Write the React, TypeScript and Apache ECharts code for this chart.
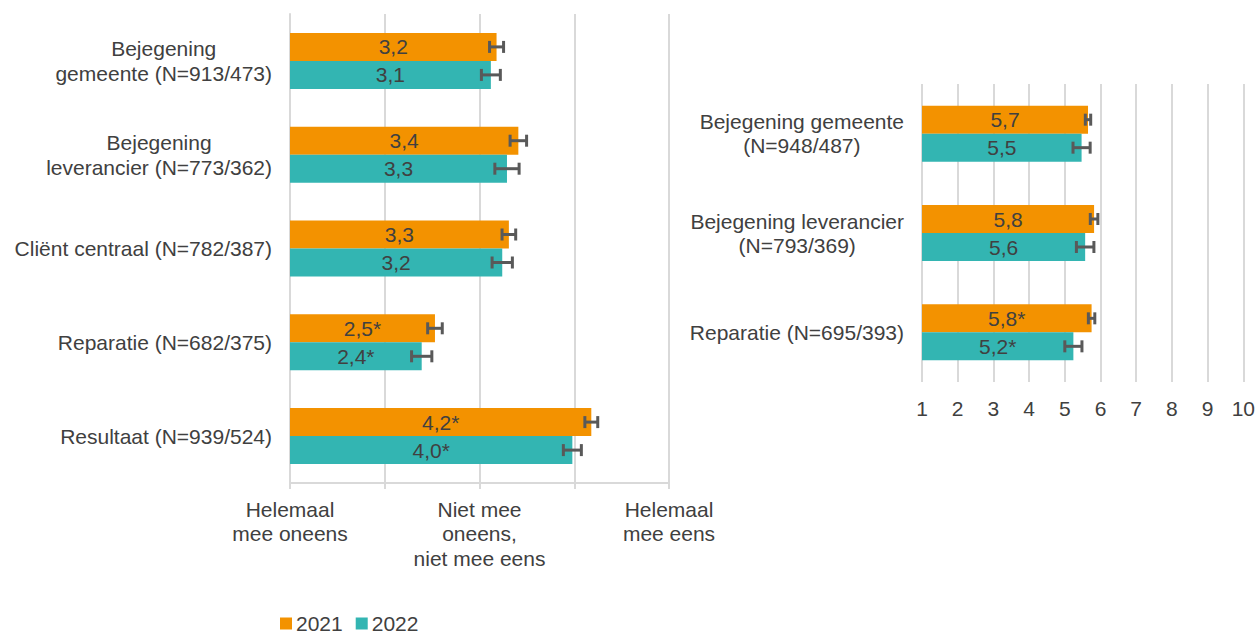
import React, { useEffect, useRef } from "react";
import * as echarts from "echarts";

// ---- Data ----
const leftCategories = [
  "Bejegening\ngemeente (N=913/473)",
  "Bejegening\nleverancier (N=773/362)",
  "Cliënt centraal (N=782/387)",
  "Reparatie (N=682/375)",
  "Resultaat (N=939/524)",
];
const left2021 = [3.18, 3.41, 3.31, 2.53, 4.18];
const left2022 = [3.12, 3.29, 3.24, 2.39, 3.98];
const leftErr2021 = [0.074, 0.087, 0.072, 0.077, 0.068];
const leftErr2022 = [0.1, 0.128, 0.107, 0.107, 0.095];
const leftSig2021 = [false, false, false, true, true];
const leftSig2022 = [false, false, false, true, true];
const leftTickLabels: Record<number, string> = {
  1: "Helemaal\nmee oneens",
  3: "Niet mee\noneens,\nniet mee eens",
  5: "Helemaal\nmee eens",
};

const rightCategories = [
  "Bejegening gemeente\n(N=948/487)",
  "Bejegening leverancier\n(N=793/369)",
  "Reparatie (N=695/393)",
];
const right2021 = [5.65, 5.82, 5.75];
const right2022 = [5.47, 5.57, 5.24];
const rightErr2021 = [0.075, 0.106, 0.09];
const rightErr2022 = [0.24, 0.245, 0.24];
const rightSig2021 = [false, false, true];
const rightSig2022 = [false, false, true];

const years = ["2021", "2022"];
const colors = ["#F39200", "#33B5B2"];

const FONT = "'Liberation Sans', Arial, sans-serif";
const TEXT = "#404040";
const GRID = "#D9D9D9";
const ERR = "#595959";

function fmt(v: number, sig: boolean) {
  return v.toFixed(1).replace(".", ",") + (sig ? "*" : "");
}

function catLabel(s: string) {
  return s
    .split("\n")
    .map((l) => "{c|" + l + "}")
    .join("\n");
}

function barSeries(
  name: string,
  color: string,
  values: number[],
  sig: boolean[],
  axisIdx: number
) {
  return {
    name,
    type: "bar",
    xAxisIndex: axisIdx,
    yAxisIndex: axisIdx,
    data: values,
    barWidth: 28,
    barGap: "0%",
    itemStyle: { color },
    label: {
      show: true,
      position: "inside",
      color: TEXT,
      fontSize: 21,
      fontFamily: FONT,
      formatter: (p: any) => fmt(values[p.dataIndex], sig[p.dataIndex]),
    },
    z: 2,
  };
}

function errSeries(
  values: number[],
  errs: number[],
  axisIdx: number,
  offset: number
) {
  return {
    type: "custom",
    xAxisIndex: axisIdx,
    yAxisIndex: axisIdx,
    data: values.map((v, i) => [v, i, errs[i]]),
    encode: { x: 0, y: 1 },
    z: 5,
    silent: true,
    renderItem: (params: any, api: any) => {
      const v = api.value(0);
      const idx = api.value(1);
      const e = api.value(2);
      const c = api.coord([v, idx]);
      const lo = api.coord([v - e, idx])[0];
      const hi = api.coord([v + e, idx])[0];
      const y = c[1] + offset;
      const st = { stroke: ERR, lineWidth: 3 };
      return {
        type: "group",
        children: [
          { type: "line", shape: { x1: lo, y1: y, x2: hi, y2: y }, style: st },
          { type: "line", shape: { x1: lo, y1: y - 6, x2: lo, y2: y + 6 }, style: st },
          { type: "line", shape: { x1: hi, y1: y - 6, x2: hi, y2: y + 6 }, style: st },
        ],
      };
    },
  };
}

export default function App() {
  const ref = useRef<HTMLDivElement>(null);

  useEffect(() => {
    if (!ref.current) return;
    const chart = echarts.init(ref.current, undefined, { renderer: "svg" });
    const option: any = {
      animation: false,
      backgroundColor: "#ffffff",
      textStyle: { fontFamily: FONT },
      legend: {
        data: years,
        left: 277,
        top: 610,
        padding: 3,
        itemWidth: 12,
        itemHeight: 12,
        itemGap: 13,
        icon: "rect",
        textStyle: {
          color: TEXT,
          fontSize: 21,
          lineHeight: 21,
          fontFamily: FONT,
          padding: [0, 0, 0, -1],
        },
      },
      grid: [
        { left: 290, width: 379, top: 14, height: 469, containLabel: false },
        { left: 922, width: 323, top: 84, height: 298, containLabel: false },
      ],
      xAxis: [
        {
          gridIndex: 0,
          type: "value",
          min: 1,
          max: 5,
          interval: 1,
          axisLine: { show: true, lineStyle: { color: GRID, width: 2 } },
          axisTick: { show: true, length: 6, lineStyle: { color: GRID, width: 2 } },
          splitLine: { show: true, lineStyle: { color: GRID, width: 2 } },
          axisLabel: {
            show: true,
            margin: 14,
            color: TEXT,
            fontSize: 21,
            lineHeight: 24.5,
            fontFamily: FONT,
            align: "center",
            verticalAlign: "top",
            formatter: (v: number) => leftTickLabels[v] || "",
          },
        },
        {
          gridIndex: 1,
          type: "value",
          min: 1,
          max: 10,
          interval: 1,
          axisLine: { show: false },
          axisTick: { show: false },
          splitLine: { show: true, lineStyle: { color: GRID, width: 2 } },
          axisLabel: {
            show: true,
            margin: 16,
            color: TEXT,
            fontSize: 21,
            fontFamily: FONT,
          },
        },
      ],
      yAxis: [
        {
          gridIndex: 0,
          type: "category",
          inverse: true,
          data: leftCategories,
          axisLine: { show: true, lineStyle: { color: GRID, width: 2 } },
          axisTick: { show: false },
          axisLabel: {
            margin: 18,
            color: TEXT,
            fontSize: 21,
            fontFamily: FONT,
            formatter: (s: string) => catLabel(s),
            rich: {
              c: {
                align: "center",
                color: TEXT,
                fontSize: 21,
                lineHeight: 25,
                fontFamily: FONT,
              },
            },
          },
        },
        {
          gridIndex: 1,
          type: "category",
          inverse: true,
          data: rightCategories,
          axisLine: { show: false },
          axisTick: { show: false },
          axisLabel: {
            margin: 18,
            color: TEXT,
            fontSize: 21,
            fontFamily: FONT,
            formatter: (s: string) => catLabel(s),
            rich: {
              c: {
                align: "center",
                color: TEXT,
                fontSize: 21,
                lineHeight: 24,
                fontFamily: FONT,
              },
            },
          },
        },
      ],
      series: [
        barSeries(years[0], colors[0], left2021, leftSig2021, 0),
        barSeries(years[1], colors[1], left2022, leftSig2022, 0),
        barSeries(years[0], colors[0], right2021, rightSig2021, 1),
        barSeries(years[1], colors[1], right2022, rightSig2022, 1),
        errSeries(left2021, leftErr2021, 0, -14),
        errSeries(left2022, leftErr2022, 0, 14),
        errSeries(right2021, rightErr2021, 1, -14),
        errSeries(right2022, rightErr2022, 1, 14),
      ],
    };
    chart.setOption(option);
    return () => chart.dispose();
  }, []);

  return (
    <div
      ref={ref}
      style={{ position: "fixed", left: 0, top: 0, width: 1258, height: 636 }}
    />
  );
}
